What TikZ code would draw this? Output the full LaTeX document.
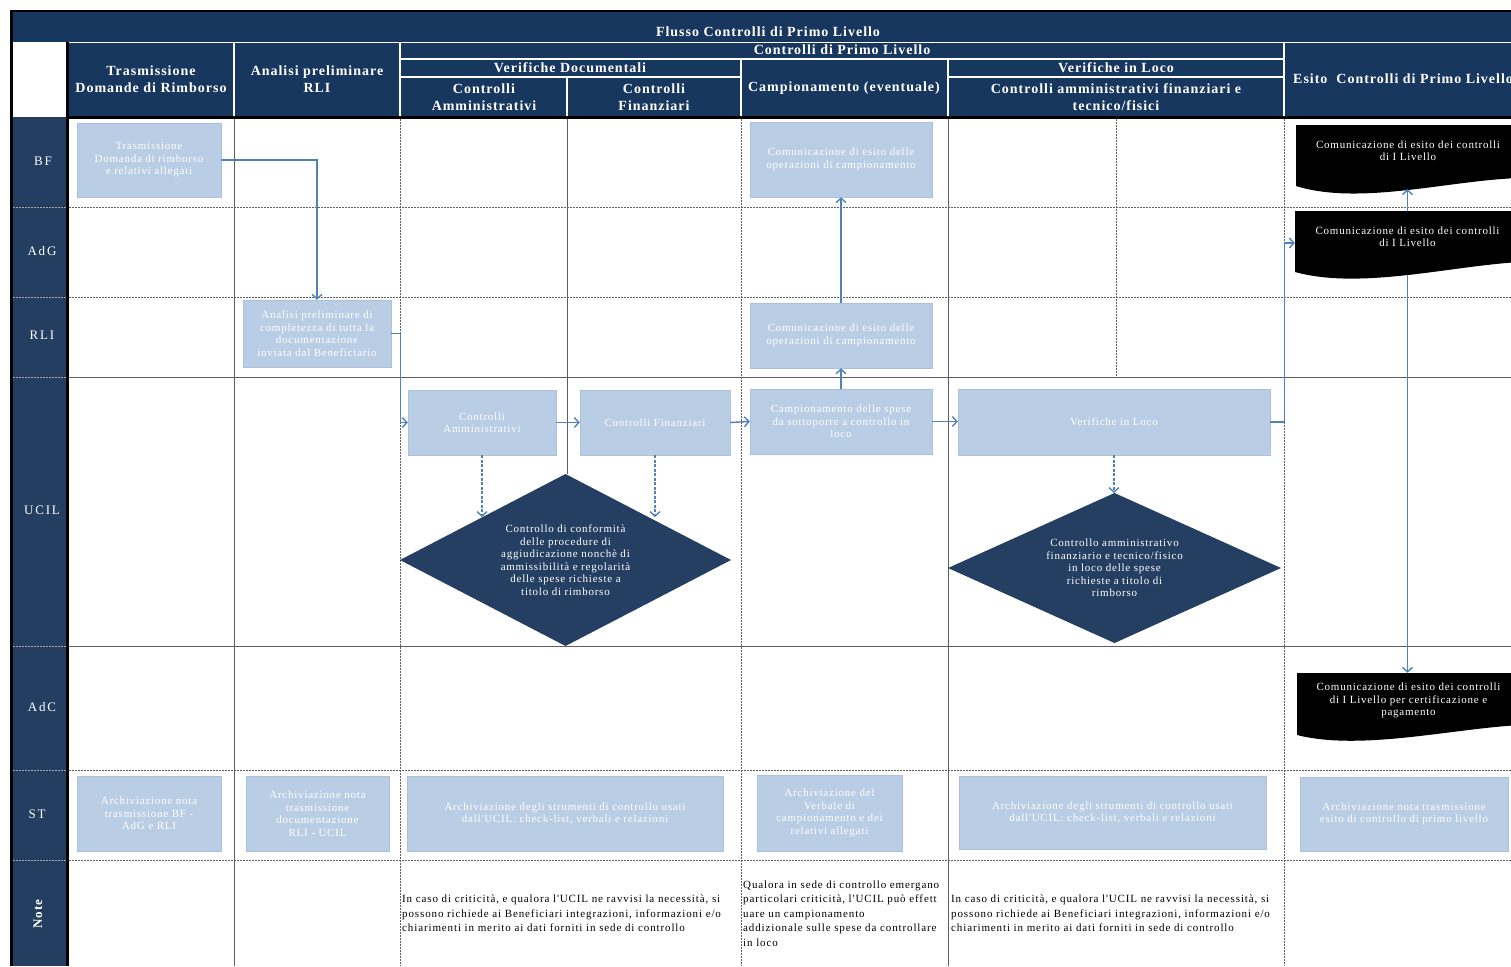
\documentclass[tikz,border=0pt]{standalone}
\usepackage{fontspec}
\setmainfont{Liberation Serif}
\newfontfamily\hdrf[LetterSpace=7]{Liberation Serif}
\newfontfamily\boxf[LetterSpace=7]{Liberation Serif}
\newfontfamily\notef[LetterSpace=8]{Liberation Serif}
\newfontfamily\lanef[LetterSpace=14]{Liberation Serif}
\usetikzlibrary{arrows.meta,shapes.geometric,calc}
\definecolor{hdrnavy}{RGB}{24,55,94}
\definecolor{lanenavy}{RGB}{36,62,97}
\definecolor{dianavy}{RGB}{36,63,98}
\definecolor{lightbox}{RGB}{185,205,229}
\definecolor{boxedge}{RGB}{170,192,221}
\definecolor{flowblue}{RGB}{79,129,189}
\definecolor{gridgray}{RGB}{95,95,95}
\newcommand{\uptxt}[1]{\raisebox{5pt}[\height][\depth]{\begin{tabular}{@{}c@{}}#1\end{tabular}}}
\begin{document}
\begin{tikzpicture}[x=1pt,y=-1pt,
  hdrtxt/.style={text=white, font=\hdrf\bfseries\fontsize{14}{17.5}\selectfont, align=center, inner sep=0},
  lanelbl/.style={text=white, font=\lanef\fontsize{13}{15}\selectfont, inner sep=0},
  pbox/.style={rectangle, fill=lightbox, draw=boxedge, line width=0.5, text=white, align=center, font=\boxf\fontsize{11}{12.5}\selectfont, inner sep=2},
  dia/.style={diamond, fill=dianavy, text=white, align=center, font=\boxf\fontsize{11}{12.5}\selectfont, inner sep=0, outer sep=0},
  docn/.style={rectangle, inner sep=0, text=white, font=\boxf\fontsize{11}{12.5}\selectfont},
  notetxt/.style={text=black, align=left, font=\notef\fontsize{11}{14.5}\selectfont, inner sep=0, anchor=west},
  flow/.style={draw=flowblue, line width=1.4, -{Straight Barb[length=4.5pt,width=10pt]}},
  flowd/.style={flow, dash pattern=on 3pt off 1.5pt},
  gsol/.style={draw=gridgray, line width=0.9},
  gdash/.style={gsol, dash pattern=on 2pt off 1pt},
  lsep/.style={draw=gray!70, line width=0.7, dash pattern=on 2pt off 1pt},
  wline/.style={draw=white, line width=1.5}]
\clip (0,0) rectangle (1511,966);
\fill[white] (0,0) rectangle (1511,966);
% header bands
\fill[hdrnavy] (10,10) rectangle (1511,42);
\fill[hdrnavy] (68,42) rectangle (1511,117);
\fill[lanenavy] (10,117) rectangle (68,966);
\fill[black] (10,10) rectangle (1511,12);
\fill[black] (10,10) rectangle (13,966);
\draw[wline, line width=1] (13,42.5) -- (1511,42.5);
\fill[black] (66,42) rectangle (69,966);
\fill[black] (66,116) rectangle (1511,119);
% header white separators
\draw[wline] (234,43) -- (234,116);
\draw[wline] (400,43) -- (400,116);
\draw[wline] (1284,43) -- (1284,116);
\draw[wline] (400,59) -- (1284,59);
\draw[wline] (741,59) -- (741,116);
\draw[wline] (948,59) -- (948,116);
\draw[wline] (400,77) -- (741,77);
\draw[wline] (948,77) -- (1284,77);
\draw[wline] (567,77) -- (567,116);
% header texts
\node[hdrtxt] (ht) at (768,32) {Flusso Controlli di Primo Livello};
\node[hdrtxt] (h1) at (151,79) {Trasmissione\\Domande di Rimborso};
\node[hdrtxt] (h2) at (317,79) {Analisi preliminare\\RLI};
\node[hdrtxt] (h3) at (842,50) {Controlli di Primo Livello};
\node[hdrtxt] (h4) at (570,68) {Verifiche Documentali};
\node[hdrtxt] (h5) at (484,97) {Controlli\\Amministrativi};
\node[hdrtxt] (h6) at (654,97) {Controlli\\Finanziari};
\node[hdrtxt] (h7) at (844,88) {Campionamento (eventuale)};
\node[hdrtxt] (h8) at (1116,68) {Verifiche in Loco};
\node[hdrtxt] (h9) at (1116,97) {Controlli amministrativi finanziari e\\tecnico/fisici};
\node[hdrtxt, anchor=west] (h10) at (1293,79) {Esito\ \ Controlli di Primo Livello};
% lane labels
\foreach \yy in {207,297,377,646,770,860} \draw[lsep] (13,\yy) -- (66,\yy);
\node[lanelbl] (lbf) at (43,161) {BF};
\node[lanelbl] (ladg) at (42,251) {AdG};
\node[lanelbl] (lrli) at (42,335) {RLI};
\node[lanelbl] (lucil) at (42,510) {UCIL};
\node[lanelbl] (ladc) at (42,707) {AdC};
\node[lanelbl] (lst) at (37,814) {ST};
\node[text=white, font=\notef\bfseries\fontsize{13}{15}\selectfont, rotate=90, inner sep=0] (lnote) at (38,914) {Note};
% grid
\draw[gdash] (69,207) -- (1511,207);
\draw[gdash] (69,297) -- (1511,297);
\draw[gsol] (69,377) -- (1511,377);
\draw[gsol] (69,646) -- (1511,646);
\draw[gdash] (69,770) -- (1511,770);
\draw[gdash] (69,860) -- (1511,860);
\draw[gsol] (234,119) -- (234,966);
\draw[gdash] (400,119) -- (400,966);
\draw[gsol] (567,119) -- (567,474);
\draw[gdash] (741,119) -- (741,966);
\draw[gsol] (948,119) -- (948,966);
\draw[gdash] (1116,119) -- (1116,377);
\draw[gdash] (1284,119) -- (1284,966);
% process boxes
\node[pbox, minimum width=144, minimum height=74] (b1) at (149,160) {Trasmissione\\Domanda di rimborso\\e relativi allegati};
\node[pbox, minimum width=148, minimum height=67] (an) at (317,333.5) {Analisi preliminare di\\completezza di tutta la\\documentazione\\inviata dal Beneficiario};
\node[pbox, minimum width=182, minimum height=75] (cc1) at (841,159.5) {Comunicazione di esito delle\\operazioni di campionamento};
\node[pbox, minimum width=182, minimum height=65] (cc2) at (841,335.5) {Comunicazione di esito delle\\operazioni di campionamento};
\node[pbox, minimum width=148, minimum height=65] (ca) at (482,422.5) {Controlli\\Amministrativi};
\node[pbox, minimum width=150, minimum height=65] (cf) at (655,422.5) {Controlli Finanziari};
\node[pbox, minimum width=182, minimum height=65] (cp) at (841,421.5) {Campionamento delle spese\\da sottoporre a controllo in\\loco};
\node[pbox, minimum width=312, minimum height=66] (vl) at (1114,422) {Verifiche in Loco};
% diamonds
\node[dia, minimum width=331, minimum height=172, aspect=1.92] (d1) at (565.5,560) {Controllo di conformità\\delle procedure di\\aggiudicazione nonchè di\\ammissibilità e regolarità\\delle spese richieste a\\titolo di rimborso};
\node[dia, minimum width=333, minimum height=150, aspect=2.22] (d2) at (1114.5,568) {Controllo amministrativo\\finanziario e tecnico/fisico\\in loco delle spese\\richieste a titolo di\\rimborso};
% document shapes
\fill[black] (1296,125) -- (1520,125) -- (1520,178) .. controls (1450,180) and (1360,206) .. (1296,186) -- cycle;
\fill[black] (1295,211) -- (1520,211) -- (1520,262) .. controls (1450,266) and (1360,290) .. (1295,272) -- cycle;
\fill[black] (1297,673) -- (1520,673) -- (1520,725) .. controls (1450,729) and (1360,751) .. (1297,735) -- cycle;
\node[docn, minimum width=224, minimum height=64] (w1) at (1408,157) {\uptxt{Comunicazione di esito dei controlli\\di I Livello}};
\node[docn, minimum width=225, minimum height=64] (w2) at (1407.5,243) {\uptxt{Comunicazione di esito dei controlli\\di I Livello}};
\node[docn, minimum width=223, minimum height=65] (w3) at (1408.5,705.5) {\uptxt{Comunicazione di esito dei controlli\\di I Livello per certificazione e\\pagamento}};
% ST boxes
\node[pbox, minimum width=144, minimum height=75] (s1) at (149,813.5) {Archiviazione nota\\trasmissione BF -\\AdG e RLI};
\node[pbox, minimum width=143, minimum height=75] (s2) at (317.5,813.5) {Archiviazione nota\\trasmissione\\documentazione\\RLI - UCIL};
\node[pbox, minimum width=316, minimum height=75] (s3) at (565,813.5) {Archiviazione degli strumenti di controllo usati\\dall'UCIL: check-list, verbali e relazioni};
\node[pbox, minimum width=145, minimum height=76] (s4) at (829.5,813) {Archiviazione del\\Verbale di\\campionamento e dei\\relativi allegati};
\node[pbox, minimum width=307, minimum height=73] (s5) at (1112.5,812.5) {Archiviazione degli strumenti di controllo usati\\dall'UCIL: check-list, verbali e relazioni};
\node[pbox, minimum width=208, minimum height=74] (s6) at (1404,814) {Archiviazione nota trasmissione\\esito di controllo di primo livello};
% notes
\node[notetxt] (n1) at (402,913.5) {In caso di criticità, e qualora l'UCIL ne ravvisi la necessità, si\\possono richiede ai Beneficiari integrazioni, informazioni e/o\\chiarimenti in merito ai dati forniti in sede di controllo};
\node[notetxt] (n2) at (743,913.5) {Qualora in sede di controllo emergano\\particolari criticità, l'UCIL può effett\\uare un campionamento\\addizionale sulle spese da controllare\\in loco};
\node[notetxt] (n3) at (951,913.5) {In caso di criticità, e qualora l'UCIL ne ravvisi la necessità, si\\possono richiede ai Beneficiari integrazioni, informazioni e/o\\chiarimenti in merito ai dati forniti in sede di controllo};
% connectors
\coordinate (d1nw) at ($(d1.north)!0.5!(d1.west)$);
\draw[flow] (b1.east) -| (an.north);
\draw[flow] (an.east) -- ++(9,0) |- (ca.west);
\draw[flow] (ca.east) -- (cf.west);
\draw[flow] (cf.east) -- (cp.west);
\draw[flow] (cp.east) -- (cp.east -| vl.west);
\draw[flow] (cp.north) -- (cc2.south);
\draw[flow] (cc2.north) -- (cc1.south);
\draw[flow] (vl.east) -- ++(14,0) |- (w2.west);
\draw[flow] (w2.north) -- (w2.north |- w1.south);
\draw[flow] (w2.south) -- (w2.south |- w3.north);
\draw[flowd] (ca.south) -- (ca.south |- d1nw);
\draw[flowd] (cf.south) -- (cf.south |- d1nw);
\draw[flowd] (vl.south) -- (vl.south |- d2.north);
\end{tikzpicture}
\end{document}
